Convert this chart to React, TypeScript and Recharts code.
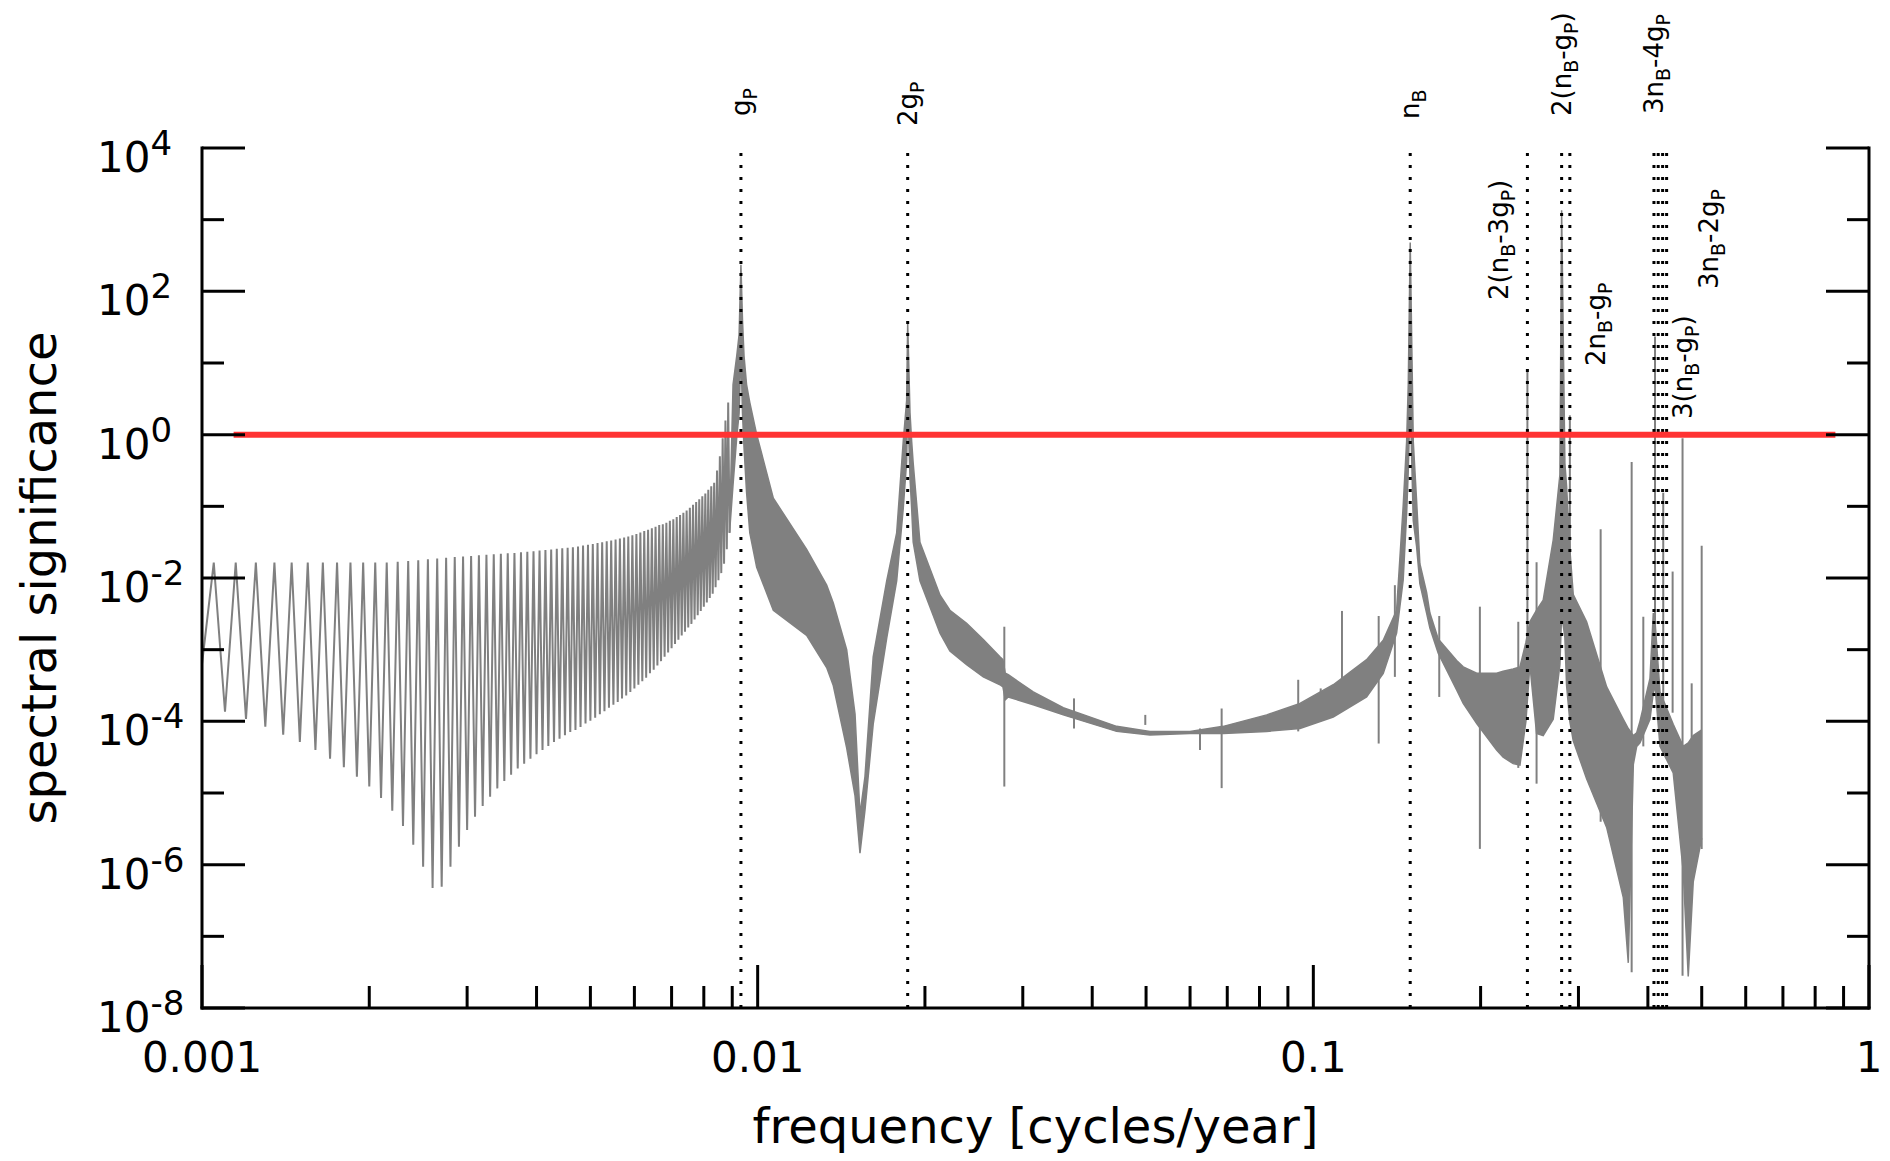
import React from "react";
import {
  Area,
  ComposedChart,
  Line,
  ReferenceLine,
  XAxis,
  YAxis,
} from "recharts";

const FONT = '"DejaVu Sans", Verdana, sans-serif';
const GRAY = "#808080";

// low-frequency leakage ripple: crests and troughs
const crestFreq = [
  0.00105, 0.00115, 0.00125, 0.00135, 0.00145, 0.00155, 0.00165, 0.00175, 0.00185, 0.00195,
  0.00205, 0.00215, 0.00225, 0.00235, 0.00245, 0.00255, 0.00265, 0.00275, 0.00285, 0.00295,
  0.00305, 0.00315, 0.00325, 0.00335, 0.00345, 0.00355, 0.00365, 0.00375, 0.00385, 0.00395,
  0.00405, 0.00415, 0.00425, 0.00435, 0.00445, 0.00455, 0.00465, 0.00475, 0.00485, 0.00495,
  0.00505, 0.00515, 0.00525, 0.00535, 0.00545, 0.00555, 0.00565, 0.00575, 0.00585, 0.00595,
  0.00605, 0.00615, 0.00625, 0.00635, 0.00645, 0.00655, 0.00665, 0.00675, 0.00685, 0.00695,
  0.00705, 0.00715, 0.00725, 0.00735, 0.00745, 0.00755, 0.00765, 0.00775, 0.00785, 0.00795,
  0.00805, 0.00815, 0.00825, 0.00835, 0.00845, 0.00855, 0.00865, 0.00875, 0.00885,
];
const crestSig = [
  1.64e-2, 1.64e-2, 1.64e-2, 1.64e-2, 1.64e-2, 1.64e-2, 1.64e-2, 1.64e-2, 1.64e-2, 1.64e-2,
  1.64e-2, 1.64e-2, 1.69e-2, 1.72e-2, 1.77e-2, 1.82e-2, 1.87e-2, 1.91e-2, 1.96e-2, 2.0e-2,
  2.03e-2, 2.07e-2, 2.11e-2, 2.14e-2, 2.18e-2, 2.21e-2, 2.24e-2, 2.28e-2, 2.32e-2, 2.37e-2,
  2.41e-2, 2.45e-2, 2.5e-2, 2.55e-2, 2.59e-2, 2.64e-2, 2.69e-2, 2.75e-2, 2.83e-2, 2.91e-2,
  2.99e-2, 3.08e-2, 3.16e-2, 3.25e-2, 3.34e-2, 3.44e-2, 3.55e-2, 3.66e-2, 3.78e-2, 3.94e-2,
  4.11e-2, 4.31e-2, 4.51e-2, 4.72e-2, 4.95e-2, 5.2e-2, 5.47e-2, 5.62e-2, 5.89e-2, 6.31e-2,
  6.61e-2, 7.08e-2, 7.59e-2, 8.13e-2, 8.71e-2, 9.55e-2, 1.05e-1, 1.15e-1, 1.26e-1, 1.38e-1,
  1.51e-1, 1.7e-1, 1.91e-1, 2.14e-1, 3.16e-1, 5.01e-1, 8.91e-1, 1.58, 2.82,
];
const troughFreq = [
  0.0011, 0.0012, 0.0013, 0.0014, 0.0015, 0.0016, 0.0017, 0.0018, 0.0019, 0.002,
  0.0021, 0.0022, 0.0023, 0.0024, 0.0025, 0.0026, 0.0027, 0.0028, 0.0029, 0.003,
  0.0031, 0.0032, 0.0033, 0.0034, 0.0035, 0.0036, 0.0037, 0.0038, 0.0039, 0.004,
  0.0041, 0.0042, 0.0043, 0.0044, 0.0045, 0.0046, 0.0047, 0.0048, 0.0049, 0.005,
  0.0051, 0.0052, 0.0053, 0.0054, 0.0055, 0.0056, 0.0057, 0.0058, 0.0059, 0.006,
  0.0061, 0.0062, 0.0063, 0.0064, 0.0065, 0.0066, 0.0067, 0.0068, 0.0069, 0.007,
  0.0071, 0.0072, 0.0073, 0.0074, 0.0075, 0.0076, 0.0077, 0.0078, 0.0079, 0.008,
  0.0081, 0.0082, 0.0083, 0.0084, 0.0085, 0.0086, 0.0087, 0.0088, 0.0089,
];
const troughSig = [
  1.36e-4, 1.08e-4, 8.43e-5, 6.52e-5, 5.15e-5, 3.99e-5, 3.01e-5, 2.29e-5, 1.69e-5, 1.23e-5,
  8.53e-6, 5.68e-6, 3.47e-6, 1.9e-6, 9.38e-7, 4.73e-7, 4.93e-7, 9.38e-7, 1.78e-6, 3.05e-6,
  4.68e-6, 6.59e-6, 8.89e-6, 1.16e-5, 1.47e-5, 1.8e-5, 2.19e-5, 2.56e-5, 3.01e-5, 3.47e-5,
  3.99e-5, 4.54e-5, 5.15e-5, 5.73e-5, 6.38e-5, 7.11e-5, 7.59e-5, 8.32e-5, 9.33e-5, 1.02e-4,
  1.12e-4, 1.26e-4, 1.38e-4, 1.55e-4, 1.7e-4, 1.86e-4, 2.09e-4, 2.29e-4, 2.57e-4, 2.88e-4,
  3.24e-4, 3.63e-4, 4.07e-4, 4.68e-4, 5.25e-4, 6.03e-4, 6.92e-4, 7.94e-4, 9.12e-4, 1.05e-3,
  1.2e-3, 1.38e-3, 1.58e-3, 1.78e-3, 2.04e-3, 2.29e-3, 2.63e-3, 3.02e-3, 3.47e-3, 3.98e-3,
  4.57e-3, 5.25e-3, 6.03e-3, 7.41e-3, 9.33e-3, 1.17e-2, 1.58e-2, 2.51e-2, 4.27e-2,
];
const rippleStart = { f: 0.001, sig: 6.3e-4 };

// envelope of the dense part of the spectrum (low / high edge)
const bandFreq = [
  0.0089, 0.00903, 0.00917, 0.00926, 0.00933, 0.00939, 0.00945, 0.00955, 0.00968, 0.00996,
  0.01067, 0.01225, 0.01331, 0.01368, 0.01446, 0.01497, 0.01528, 0.0156, 0.01614, 0.01707,
  0.01779, 0.01828, 0.01854, 0.01862, 0.0188, 0.01893, 0.01905, 0.01959, 0.02129, 0.02218,
  0.02377, 0.02547, 0.02729, 0.02763, 0.0279, 0.02825, 0.03133, 0.03548, 0.04426, 0.05082,
  0.05998, 0.06885, 0.08241, 0.09461, 0.1086, 0.1247, 0.1336, 0.1412, 0.1451, 0.1472,
  0.1482, 0.1494, 0.1513, 0.1534, 0.1555, 0.1599, 0.1621, 0.1678, 0.1811, 0.1861,
  0.1968, 0.2137, 0.2196, 0.2289, 0.2354, 0.2413, 0.2453, 0.2522, 0.2592, 0.2702,
  0.2778, 0.2798, 0.2836, 0.2856, 0.2895, 0.2936, 0.3103, 0.3372, 0.3613, 0.3688,
  0.3766, 0.3819, 0.3871, 0.4035, 0.4091, 0.412, 0.4206, 0.4443, 0.4631, 0.4728,
  0.4827, 0.5,
];
const bandLow = [
  4.27e-2, 2.0e-1, 9.33e-1, 2.0, 15.8, 2.0, 6.76e-1, 1.58e-1, 4.27e-2, 1.41e-2,
  3.55e-3, 1.58e-3, 5.62e-4, 3.16e-4, 4.27e-5, 9.12e-6, 1.45e-6, 5.75e-6, 9.12e-5, 1.45e-3,
  9.12e-3, 9.33e-2, 4.27e-1, 3.16, 2.51e-1, 9.33e-2, 3.16e-2, 9.12e-3, 1.7e-3, 9.55e-4,
  6.17e-4, 4.17e-4, 3.24e-4, 3.02e-4, 2.0e-4, 2.19e-4, 1.7e-4, 1.23e-4, 7.24e-5, 6.46e-5,
  6.76e-5, 6.76e-5, 7.24e-5, 7.94e-5, 1.15e-4, 2.19e-4, 4.68e-4, 1.7e-3, 9.33e-3, 7.94e-2,
  3.16e-1, 3.16, 6.31e-2, 2.75e-2, 8.32e-3, 3.24e-3, 2.0e-3, 8.91e-4, 2.75e-4, 1.78e-4,
  9.33e-5, 3.98e-5, 3.16e-5, 2.57e-5, 2.45e-5, 1.0e-4, 6.17e-4, 6.76e-5, 6.31e-5, 1.07e-4,
  6.17e-4, 3.16e-3, 1.48e-3, 3.16e-4, 1.0e-4, 5.37e-5, 1.58e-5, 3.31e-6, 3.47e-7, 4.27e-8,
  2.51e-5, 4.47e-5, 5.01e-5, 1.07e-4, 2.51e-4, 3.16e-4, 4.47e-5, 1.91e-5, 8.13e-7, 2.75e-8,
  5.75e-7, 2.34e-6,
];
const bandHigh = [
  4.27e-2, 5.0, 12.6, 25.0, 234, 40.0, 12.6, 5.0, 2.8, 1.0,
  1.3e-1, 2.51e-2, 7.94e-3, 4.47e-3, 1.0e-3, 1.26e-4, 5.01e-6, 1.7e-5, 7.94e-4, 9.12e-3,
  4.27e-2, 8.0e-1, 3.0, 35.5, 2.0, 8.0e-1, 4.0e-1, 3.16e-2, 5.75e-3, 3.55e-3,
  2.34e-3, 1.38e-3, 7.94e-4, 7.24e-4, 4.68e-4, 4.47e-4, 2.57e-4, 1.55e-4, 8.51e-5, 7.24e-5,
  7.24e-5, 8.51e-5, 1.23e-4, 1.78e-4, 3.24e-4, 7.24e-4, 1.35e-3, 3.55e-3, 1.0e-1, 8.0e-1,
  5.0, 479, 8.0e-1, 1.2e-1, 1.58e-2, 6.31e-3, 3.24e-3, 1.41e-3, 7.08e-4, 5.75e-4,
  4.68e-4, 4.68e-4, 5.01e-4, 5.37e-4, 5.75e-4, 1.26e-3, 2.45e-3, 3.55e-3, 4.9e-3, 3.39e-2,
  2.75e-1, 1349, 3.98e-1, 1.91e-1, 2.51e-2, 5.89e-3, 2.45e-3, 3.02e-4, 1.07e-4, 7.94e-5,
  6.31e-5, 6.92e-5, 1.0e-4, 3.98e-4, 3.24e-3, 2.51e-3, 2.57e-4, 9.12e-5, 4.47e-5, 5.01e-5,
  6.31e-5, 7.59e-5,
];

// isolated narrow lines sticking out of the envelope
const spikeFreq = [
  0.02779, 0.03709, 0.04984, 0.06252, 0.06839, 0.09393, 0.1031, 0.1126, 0.1311, 0.1402,
  0.1685, 0.1994, 0.2338, 0.2428, 0.2522, 0.2895, 0.3289, 0.374, 0.3925, 0.412,
  0.4263, 0.4432, 0.4618, 0.4796, 0.4999,
];
const spikeLow = [
  1.23e-5, 7.94e-5, 8.91e-5, 3.98e-5, 1.17e-5, 7.24e-5, 1.29e-4, 3.39e-4, 4.9e-5, 4.17e-4,
  2.19e-4, 1.66e-6, 2.24e-5, 6.31e-4, 1.35e-5, 1.0e-3, 3.98e-6, 3.16e-8, 4.47e-5, 1.0e-3,
  1.32e-4, 1.32e-4, 2.82e-8, 2.63e-5, 1.66e-6,
];
const spikeHigh = [
  2.09e-3, 2.09e-4, 1.23e-4, 7.94e-5, 1.51e-4, 3.8e-4, 2.88e-4, 3.47e-3, 2.95e-3, 7.94e-3,
  2.95e-3, 3.98e-3, 2.45e-3, 7.59, 1.66e-2, 1.86, 4.79e-2, 4.17e-1, 2.88e-3, 23.4,
  1.55e-1, 1.23e-2, 8.91e-1, 3.39e-4, 2.82e-2,
];

// combination frequencies (dotted markers); "_X" = subscript X
const harmonicFreq = [0.00933, 0.01862, 0.1494, 0.2428, 0.2798, 0.2895, 0.4102, 0.4175, 0.4252, 0.4323];
const harmonicName = [
  "g_P", "2g_P", "n_B", "2(n_B-3g_P)", "2(n_B-g_P)", "2n_B-g_P", "3n_B-4g_P", "3(n_B-g_P)", "3n_B-2g_P", "",
];

const thresholdFreq = [0.00114, 0.87];
const thresholdSig = 1;

const freqDecades = [0.001, 0.01, 0.1, 1];
const freqMinor = [
  0.002, 0.003, 0.004, 0.005, 0.006, 0.007, 0.008, 0.009,
  0.02, 0.03, 0.04, 0.05, 0.06, 0.07, 0.08, 0.09,
  0.2, 0.3, 0.4, 0.5, 0.6, 0.7, 0.8, 0.9,
];
const sigTicks = [1e-8, 1e-7, 1e-6, 1e-5, 1e-4, 1e-3, 1e-2, 1e-1, 1, 1e1, 1e2, 1e3, 1e4];

// where each marker label sits: horizontal shift from its line, text start (bottom) y
const labelSpots = [
  { dx: 0, y: 116 },
  { dx: 0, y: 126 },
  { dx: 0, y: 119 },
  { dx: -28, y: 300 },
  { dx: 0, y: 116 },
  { dx: 26, y: 366 },
  { dx: 0, y: 114 },
  { dx: 25, y: 419 },
  { dx: 46, y: 289 },
  null,
];

const rippleData: { f: number; sig: number }[] = [rippleStart];
crestFreq.forEach((f, i) => {
  rippleData.push({ f, sig: crestSig[i] });
  if (i < troughFreq.length) {
    rippleData.push({ f: troughFreq[i], sig: troughSig[i] });
  }
});

const bandData = bandFreq.map((f, i) => ({ f, sig: [bandLow[i], bandHigh[i]] }));

const freqTicks = [...freqDecades, ...freqMinor].sort((a, b) => a - b);

const frame = { stroke: "#000", strokeWidth: 3, strokeLinecap: "square" as const };

function renderFreqTick(props: any, side: "bottom" | "top") {
  const { x, y, payload } = props;
  const major = freqDecades.includes(payload.value);
  const len = major ? 43 : 22;
  const dir = side === "bottom" ? -1 : 1;

  return (
    <g>
      <line x1={x} x2={x} y1={y} y2={y + dir * len} stroke="#000" strokeWidth={3} />
      {side === "bottom" && major && (
        <text x={x} y={y + 64} textAnchor="middle" fontSize={42} fontFamily={FONT} fill="#000">
          {String(payload.value)}
        </text>
      )}
    </g>
  );
}

function renderSigTick(props: any, side: "left" | "right") {
  const { x, y, payload } = props;
  const exp = Math.round(Math.log10(payload.value));
  const major = exp % 2 === 0;
  const len = major ? 43 : 22;
  const dir = side === "left" ? 1 : -1;

  return (
    <g>
      <line x1={x} x2={x + dir * len} y1={y} y2={y} stroke="#000" strokeWidth={3} />
      {side === "left" && major && (
        <text x={x - 105} y={y + 24} fontSize={42} fontFamily={FONT} fill="#000">
          10
          <tspan dy={-17} fontSize={34}>
            {exp}
          </tspan>
        </text>
      )}
    </g>
  );
}

function MarkerLabel({ viewBox, name, dx, base }: any) {
  if (!viewBox || !name) {
    return null;
  }

  const x = viewBox.x + dx + 9;
  const parts = name.split(/_(.)/);

  return (
    <text
      x={x}
      y={base}
      transform={`rotate(-90 ${x} ${base})`}
      fontSize={26}
      fontFamily={FONT}
      fill="#000"
    >
      {parts.map((part: string, i: number) =>
        i % 2 === 1 ? (
          <tspan key={i} fontSize={19} dy={7}>
            {part}
          </tspan>
        ) : (
          <tspan key={i} dy={i === 0 ? 0 : -7}>
            {part}
          </tspan>
        ),
      )}
    </text>
  );
}

export default function App() {
  return (
    <div
      style={{
        position: "absolute",
        left: 0,
        top: 0,
        width: 1890,
        height: 1161,
        background: "#fff",
        fontFamily: FONT,
      }}
    >
      <ComposedChart width={1890} height={1161} margin={{ top: 148, right: 0, bottom: 0, left: 0 }}>
        <XAxis
          dataKey="f"
          type="number"
          scale="log"
          domain={[0.001, 1]}
          allowDataOverflow
          ticks={freqTicks}
          interval={0}
          height={153}
          tickSize={0}
          tickMargin={0}
          tickLine={false}
          axisLine={frame}
          tick={(p: any) => renderFreqTick(p, "bottom")}
          label={(p: any) => (
            <text
              x={p.viewBox.x + p.viewBox.width / 2}
              y={p.viewBox.y + 135}
              textAnchor="middle"
              fontSize={48}
              fontFamily={FONT}
              fill="#000"
            >
              frequency [cycles/year]
            </text>
          )}
        />
        <XAxis
          xAxisId="top"
          orientation="top"
          type="number"
          scale="log"
          domain={[0.001, 1]}
          allowDataOverflow
          ticks={freqTicks}
          interval={0}
          height={0}
          tickSize={0}
          tickMargin={0}
          tickLine={false}
          axisLine={frame}
          tick={(p: any) => renderFreqTick(p, "top")}
        />
        <YAxis
          type="number"
          scale="log"
          domain={[1e-8, 1e4]}
          allowDataOverflow
          ticks={sigTicks}
          interval={0}
          width={202}
          tickSize={0}
          tickMargin={0}
          tickLine={false}
          axisLine={frame}
          tick={(p: any) => renderSigTick(p, "left")}
          label={(p: any) => {
            const cy = p.viewBox.y + p.viewBox.height / 2;
            return (
              <text
                x={56}
                y={cy}
                transform={`rotate(-90 56 ${cy})`}
                textAnchor="middle"
                fontSize={48}
                fontFamily={FONT}
                fill="#000"
              >
                spectral significance
              </text>
            );
          }}
        />
        <YAxis
          yAxisId="right"
          orientation="right"
          type="number"
          scale="log"
          domain={[1e-8, 1e4]}
          allowDataOverflow
          ticks={sigTicks}
          interval={0}
          width={21}
          tickSize={0}
          tickMargin={0}
          tickLine={false}
          axisLine={frame}
          tick={(p: any) => renderSigTick(p, "right")}
        />

        <Line
          data={rippleData}
          dataKey="sig"
          type="linear"
          stroke={GRAY}
          strokeWidth={2}
          dot={false}
          activeDot={false}
          isAnimationActive={false}
        />
        <Area
          data={bandData}
          dataKey="sig"
          type="linear"
          stroke={GRAY}
          strokeWidth={1.5}
          fill={GRAY}
          fillOpacity={1}
          dot={false}
          activeDot={false}
          isAnimationActive={false}
        />

        {spikeFreq.map((f, i) => (
          <ReferenceLine
            key={`spike-${i}`}
            segment={[
              { x: f, y: spikeLow[i] },
              { x: f, y: spikeHigh[i] },
            ]}
            stroke={GRAY}
            strokeWidth={2}
          />
        ))}

        {harmonicFreq.map((f, i) => {
          const spot = labelSpots[i];
          return (
            <ReferenceLine
              key={`harm-${i}`}
              x={f}
              stroke="#000"
              strokeWidth={3}
              strokeDasharray="3 9"
              label={
                spot
                  ? (p: any) => (
                      <MarkerLabel viewBox={p.viewBox} name={harmonicName[i]} dx={spot.dx} base={spot.y} />
                    )
                  : undefined
              }
            />
          );
        })}

        <ReferenceLine
          segment={[
            { x: thresholdFreq[0], y: thresholdSig },
            { x: thresholdFreq[1], y: thresholdSig },
          ]}
          stroke="#ff3333"
          strokeWidth={6}
        />
      </ComposedChart>
    </div>
  );
}
